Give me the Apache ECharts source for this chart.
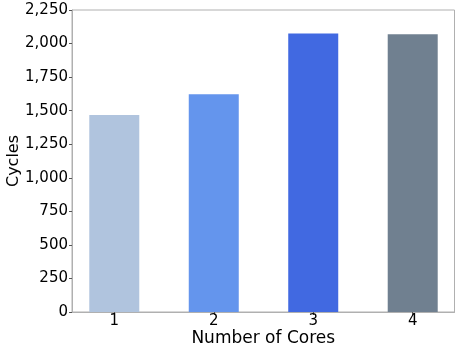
<!DOCTYPE html>
<html>
<head>
<meta charset="utf-8">
<script src="https://cdn.jsdelivr.net/npm/echarts@6/dist/echarts.min.js"></script>
<style>html,body{margin:0;padding:0;background:#fff;}#c{width:460px;height:347px;}</style>
</head>
<body>
<div id="c"></div>
<script>
const categories = ['1', '2', '3', '4'];
const cycles = [1468, 1622, 2074, 2069];
const barColors = ['#B0C4DE', '#6495ED', '#4169E1', '#708090'];
const yTicks = [0, 250, 500, 750, 1000, 1250, 1500, 1750, 2000, 2250];

const chart = echarts.init(document.getElementById('c'), null, {renderer: 'canvas'});
const font = 'DejaVu Sans';
const pos = categories.map((c, i) => i);
chart.setOption({
  animation: false,
  backgroundColor: '#fff',
  grid: {left: 72, right: 5.5, top: 10, bottom: 35, containLabel: false, outerBoundsMode: 'none',
    show: true, borderColor: '#b0b0b0', borderWidth: 1, backgroundColor: 'transparent'},
  xAxis: {
    type: 'value', min: -0.425, max: 3.42,
    name: 'Number of Cores', nameLocation: 'middle', nameGap: 18, nameMoveOverlap: false,
    nameTextStyle: {fontFamily: font, fontSize: 17, color: '#000'},
    axisLine: {show: true, onZero: false, lineStyle: {color: '#b0b0b0'}},
    axisTick: {show: true, length: 3, customValues: pos, lineStyle: {color: '#555'}},
    axisLabel: {customValues: pos, fontFamily: font, fontSize: 15, color: '#000', margin: 2,
      formatter: v => categories[Math.round(v)] || ''},
    splitLine: {show: false}
  },
  yAxis: {
    type: 'value', min: 0, max: 2250, interval: 250,
    name: 'Cycles', nameLocation: 'middle', nameGap: 50, nameMoveOverlap: false,
    nameTextStyle: {fontFamily: font, fontSize: 16, color: '#000'},
    axisLine: {show: true, onZero: false, lineStyle: {color: '#b0b0b0'}},
    axisTick: {show: true, length: 3, lineStyle: {color: '#555'}},
    axisLabel: {fontFamily: font, fontSize: 15, color: '#000', margin: 4,
      formatter: v => v.toLocaleString('en-US')},
    splitLine: {show: false}
  },
  series: [{
    type: 'bar', barWidth: 50,
    data: cycles.map((v, i) => ({value: [i, v], itemStyle: {color: barColors[i]}}))
  }]
});
</script>
</body>
</html>
